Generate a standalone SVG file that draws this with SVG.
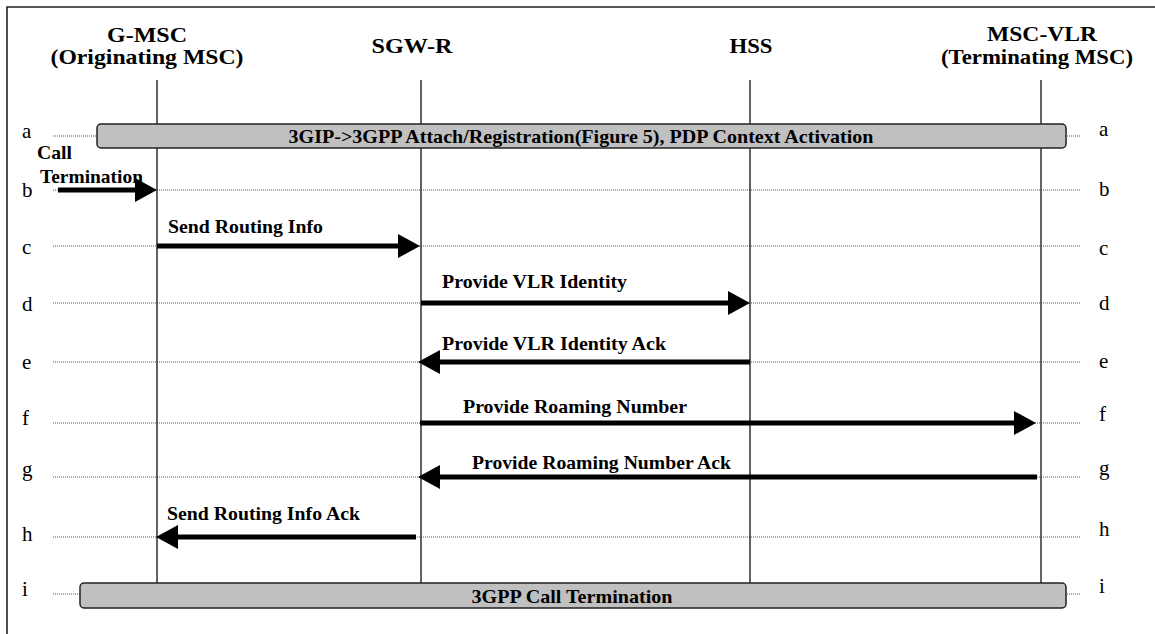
<svg xmlns="http://www.w3.org/2000/svg" width="1155" height="634" viewBox="0 0 1155 634">
  <style>
    text { font-family: "Liberation Serif", "Tinos", "Times New Roman", "DejaVu Serif", "Noto Serif", serif; fill: #000; }
    .hdr { font-size: 21px; font-weight: bold; text-anchor: middle; }
    .msg { font-size: 19px; font-weight: bold; }
    .bar-text { font-size: 19px; font-weight: bold; text-anchor: middle; }
    .row { font-size: 21px; }
    .life { stroke: #222; stroke-width: 1.4; fill: none; }
    .guide { stroke: #555; stroke-width: 1; stroke-dasharray: 1 1; fill: none; }
    .bar { fill: #c0c0c0; stroke: #222; stroke-width: 1.5; }
    .frame { stroke: #222; stroke-width: 1.6; fill: none; }
    .arrow { stroke: #000; stroke-width: 5; fill: none; marker-end: url(#head); }
  </style>
  <defs>
    <marker id="head" markerUnits="userSpaceOnUse" markerWidth="22" markerHeight="24" refX="7" refY="12" orient="auto">
      <path d="M0,0 L22,12 L0,24 Z" fill="#000"/>
    </marker>
  </defs>

  <rect width="1155" height="634" fill="#fff"/>

  <!-- page frame (top and left edges) -->
  <path class="frame" d="M7,634 L7,7 L1155,7"/>

  <!-- dotted row guides -->
  <g id="guides">
    <line class="guide" x1="53" y1="136" x2="1080" y2="136"/>
    <line class="guide" x1="53" y1="190" x2="1080" y2="190"/>
    <line class="guide" x1="53" y1="246" x2="1080" y2="246"/>
    <line class="guide" x1="53" y1="303" x2="1080" y2="303"/>
    <line class="guide" x1="53" y1="362" x2="1080" y2="362"/>
    <line class="guide" x1="53" y1="423" x2="1080" y2="423"/>
    <line class="guide" x1="53" y1="477" x2="1080" y2="477"/>
    <line class="guide" x1="53" y1="537" x2="1080" y2="537"/>
    <line class="guide" x1="53" y1="594" x2="1080" y2="594"/>
  </g>

  <!-- row letters -->
  <g id="row-labels">
    <text class="row" x="22" y="138">a</text>
    <text class="row" x="22" y="197">b</text>
    <text class="row" x="22" y="254">c</text>
    <text class="row" x="22" y="311">d</text>
    <text class="row" x="22" y="369">e</text>
    <text class="row" x="22" y="425">f</text>
    <text class="row" x="22" y="476">g</text>
    <text class="row" x="22" y="541">h</text>
    <text class="row" x="22" y="596">i</text>
    <text class="row" x="1099" y="136">a</text>
    <text class="row" x="1099" y="196">b</text>
    <text class="row" x="1099" y="255">c</text>
    <text class="row" x="1099" y="310">d</text>
    <text class="row" x="1099" y="368">e</text>
    <text class="row" x="1099" y="421">f</text>
    <text class="row" x="1099" y="475">g</text>
    <text class="row" x="1099" y="536">h</text>
    <text class="row" x="1099" y="593">i</text>
  </g>

  <!-- participants -->
  <g id="g-msc">
    <text class="hdr" x="147" y="42" textLength="80" lengthAdjust="spacingAndGlyphs">G-MSC</text>
    <text class="hdr" x="147" y="64" textLength="193" lengthAdjust="spacingAndGlyphs">(Originating MSC)</text>
    <line class="life" x1="157" y1="80" x2="157" y2="583"/>
  </g>
  <g id="sgw-r">
    <text class="hdr" x="412" y="53" textLength="81" lengthAdjust="spacingAndGlyphs">SGW-R</text>
    <line class="life" x1="421" y1="80" x2="421" y2="583"/>
  </g>
  <g id="hss">
    <text class="hdr" x="751" y="53" textLength="43" lengthAdjust="spacingAndGlyphs">HSS</text>
    <line class="life" x1="750" y1="80" x2="750" y2="583"/>
  </g>
  <g id="msc-vlr">
    <text class="hdr" x="1042" y="41" textLength="110" lengthAdjust="spacingAndGlyphs">MSC-VLR</text>
    <text class="hdr" x="1037" y="64" textLength="192" lengthAdjust="spacingAndGlyphs">(Terminating MSC)</text>
    <line class="life" x1="1041" y1="80" x2="1041" y2="583"/>
  </g>

  <!-- spanning procedure bars -->
  <g id="attach-bar">
    <rect class="bar" x="97" y="124" width="969" height="24" rx="4" ry="4"/>
    <text class="bar-text" x="581" y="143" textLength="585" lengthAdjust="spacingAndGlyphs">3GIP-&gt;3GPP Attach/Registration(Figure 5), PDP Context Activation</text>
  </g>
  <g id="termination-bar">
    <rect class="bar" x="80" y="583" width="986" height="25" rx="4" ry="4"/>
    <text class="bar-text" x="572" y="603" textLength="201" lengthAdjust="spacingAndGlyphs">3GPP Call Termination</text>
  </g>

  <!-- messages -->
  <g id="connectors">
    <line class="arrow" x1="58" y1="190" x2="142" y2="190"/>
    <line class="arrow" x1="157" y1="246" x2="405" y2="246"/>
    <line class="arrow" x1="421" y1="303" x2="735" y2="303"/>
    <line class="arrow" x1="750" y1="362" x2="433" y2="362"/>
    <line class="arrow" x1="420" y1="423" x2="1021" y2="423"/>
    <line class="arrow" x1="1037" y1="477" x2="433" y2="477"/>
    <line class="arrow" x1="416" y1="537" x2="171" y2="537"/>
  </g>

  <g id="message-labels">
    <text class="msg" x="37" y="159" textLength="35" lengthAdjust="spacingAndGlyphs">Call</text>
    <text class="msg" x="40" y="183" textLength="103" lengthAdjust="spacingAndGlyphs">Termination</text>
    <text class="msg" x="168" y="233" textLength="155" lengthAdjust="spacingAndGlyphs">Send Routing Info</text>
    <text class="msg" x="442" y="288" textLength="185" lengthAdjust="spacingAndGlyphs">Provide VLR Identity</text>
    <text class="msg" x="442" y="350" textLength="224" lengthAdjust="spacingAndGlyphs">Provide VLR Identity Ack</text>
    <text class="msg" x="463" y="413" textLength="224" lengthAdjust="spacingAndGlyphs">Provide Roaming Number</text>
    <text class="msg" x="472" y="469" textLength="259" lengthAdjust="spacingAndGlyphs">Provide Roaming Number Ack</text>
    <text class="msg" x="167" y="520" textLength="193" lengthAdjust="spacingAndGlyphs">Send Routing Info Ack</text>
  </g>
</svg>
